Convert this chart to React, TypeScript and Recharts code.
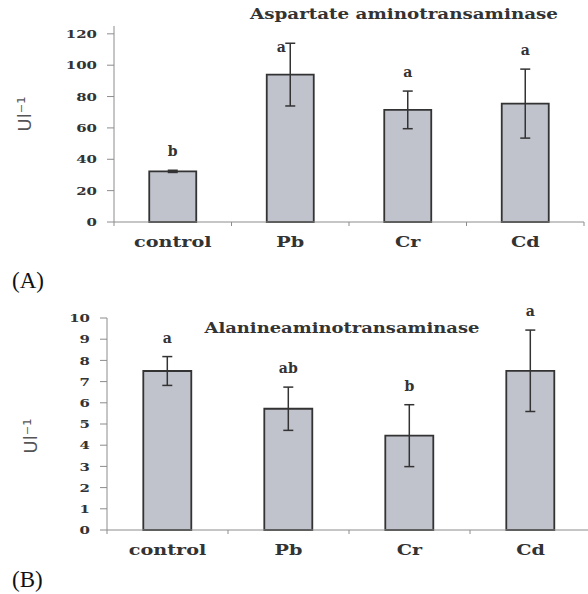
import { BarChart, Bar, XAxis, YAxis, ErrorBar, LabelList } from "recharts";

const categories = ["control", "Pb", "Cr", "Cd"];

// (A) Aspartate aminotransaminase
const astValues = [32.3, 94, 71.5, 75.5];
const astErrors = [0.7, 20, 12, 22];
const astLetters = ["b", "a", "a", "a"];
const astTicks = [0, 20, 40, 60, 80, 100, 120];

// (B) Alanine aminotransaminase
const altValues = [7.5, 5.72, 4.45, 7.51];
const altErrors = [0.68, 1.02, 1.46, 1.92];
const altLetters = ["a", "ab", "b", "a"];
const altTicks = [0, 1, 2, 3, 4, 5, 6, 7, 8, 9, 10];

const SERIF = "'DejaVu Serif', serif";
const AXIS = "#8c8c8c";
const INK = "#333";

function buildRows(values: number[], errors: number[], letters: string[]) {
  return categories.map((name, i) => ({
    name,
    value: values[i],
    err: errors[i],
    letter: letters[i],
  }));
}

function makeXTick(band: number) {
  return (props: any) => {
    const { x, y, payload, index, visibleTicksCount } = props;
    const half = band / 2;
    return (
      <g>
        <line x1={x - half} x2={x - half} y1={y} y2={y + 4} stroke={AXIS} />
        {index === visibleTicksCount - 1 && (
          <line x1={x + half} x2={x + half} y1={y} y2={y + 4} stroke={AXIS} />
        )}
        <text
          transform={`translate(${x},${y + 25}) scale(1.37,1)`}
          textAnchor="middle"
          fontFamily={SERIF}
          fontWeight="bold"
          fontSize={14}
          fill={INK}
        >
          {payload.value}
        </text>
      </g>
    );
  };
}

const YTick = (props: any) => {
  const { x, y, payload } = props;
  return (
    <text
      transform={`translate(${x},${y}) scale(1.3,1)`}
      textAnchor="end"
      dy="0.36em"
      fontFamily={SERIF}
      fontWeight="bold"
      fontSize={11.5}
      fill={INK}
    >
      {payload.value}
    </text>
  );
};

function makeLetter(errors: number[], values: number[], minY: number) {
  return (p: any) => {
    const x = Number(p.x);
    const y = Number(p.y);
    const w = Number(p.width);
    const h = Number(p.height);
    const i = p.index;
    const perUnit = h / values[i];
    const errTop = y - errors[i] * perUnit;
    let cx = x + w / 2;
    let base = errTop - 14;
    if (base - 8 < minY) {
      cx = cx - 9;
      base = errTop + 9;
    }
    return (
      <text
        x={cx}
        y={base}
        textAnchor="middle"
        fontFamily={SERIF}
        fontWeight="bold"
        fontSize={14}
        fill={INK}
      >
        {p.value}
      </text>
    );
  };
}

type PanelProps = {
  rows: any[];
  values: number[];
  errors: number[];
  ticks: number[];
  domain: [number, number];
  width: number;
  height: number;
  margin: { top: number; right: number; bottom: number; left: number };
  yAxisWidth: number;
  title: string;
  titleX: number;
  titleY: number;
  titleLen: number;
  yLabelX: number;
  yLabelY: number;
  minLetterY: number;
};

function Panel(p: PanelProps) {
  const band = (p.width - p.margin.left - p.margin.right - p.yAxisWidth) / categories.length;
  return (
    <BarChart
      width={p.width}
      height={p.height}
      data={p.rows}
      margin={p.margin}
      barCategoryGap="30%"
    >
      <XAxis
        dataKey="name"
        height={30}
        tickLine={false}
        tickSize={0}
        tickMargin={0}
        axisLine={{ stroke: AXIS }}
        tick={makeXTick(band)}
        interval={0}
      />
      <YAxis
        width={p.yAxisWidth}
        domain={p.domain}
        ticks={p.ticks}
        interval={0}
        tickSize={7}
        tickMargin={10}
        tickLine={{ stroke: AXIS }}
        axisLine={{ stroke: AXIS }}
        tick={YTick}
      />
      <Bar
        dataKey="value"
        fill="#c0c3cc"
        stroke={INK}
        strokeWidth={1.8}
        isAnimationActive={false}
      >
        <ErrorBar
          dataKey="err"
          width={5}
          stroke={INK}
          strokeWidth={1.5}
          direction="y"
        />
        <LabelList
          dataKey="letter"
          content={makeLetter(p.errors, p.values, p.minLetterY)}
        />
      </Bar>
      <text
        x={p.titleX}
        y={p.titleY}
        textAnchor="middle"
        textLength={p.titleLen}
        lengthAdjust="spacingAndGlyphs"
        fontFamily={SERIF}
        fontWeight="bold"
        fontSize={15}
        fill={INK}
      >
        {p.title}
      </text>
      <text
        transform={`translate(${p.yLabelX},${p.yLabelY}) rotate(-90)`}
        textAnchor="middle"
        dy="0.35em"
        fontFamily="'DejaVu Sans', sans-serif"
        fontSize={18}
        fill="#555"
      >
        Ul⁻¹
      </text>
    </BarChart>
  );
}

export default function App() {
  return (
    <div
      style={{
        position: "absolute",
        left: 0,
        top: 0,
        width: 588,
        height: 594,
        overflow: "hidden",
        background: "#fff",
      }}
    >
      <div style={{ position: "absolute", left: 0, top: 0 }}>
        <Panel
          rows={buildRows(astValues, astErrors, astLetters)}
          values={astValues}
          errors={astErrors}
          ticks={astTicks}
          domain={[0, 125]}
          width={588}
          height={262}
          margin={{ top: 26, right: 4, bottom: 10, left: 0 }}
          yAxisWidth={114}
          title="Aspartate aminotransaminase"
          titleX={404}
          titleY={19}
          titleLen={308}
          yLabelX={25}
          yLabelY={114}
          minLetterY={40}
        />
      </div>
      <div style={{ position: "absolute", left: 0, top: 260 }}>
        <Panel
          rows={buildRows(altValues, altErrors, altLetters)}
          values={altValues}
          errors={altErrors}
          ticks={altTicks}
          domain={[0, 10]}
          width={592}
          height={334}
          margin={{ top: 58, right: 1, bottom: 34, left: 0 }}
          yAxisWidth={107}
          title="Alanineaminotransaminase"
          titleX={342}
          titleY={73}
          titleLen={275}
          yLabelX={31}
          yLabelY={176}
          minLetterY={0}
        />
      </div>
      <svg
        width={588}
        height={594}
        style={{ position: "absolute", left: 0, top: 0, pointerEvents: "none" }}
      >
        <text x={12} y={288} fontFamily="'Liberation Serif', serif" fontSize={23} fill="#111">
          (A)
        </text>
        <text x={12} y={587} fontFamily="'Liberation Serif', serif" fontSize={23} fill="#111">
          (B)
        </text>
      </svg>
    </div>
  );
}
